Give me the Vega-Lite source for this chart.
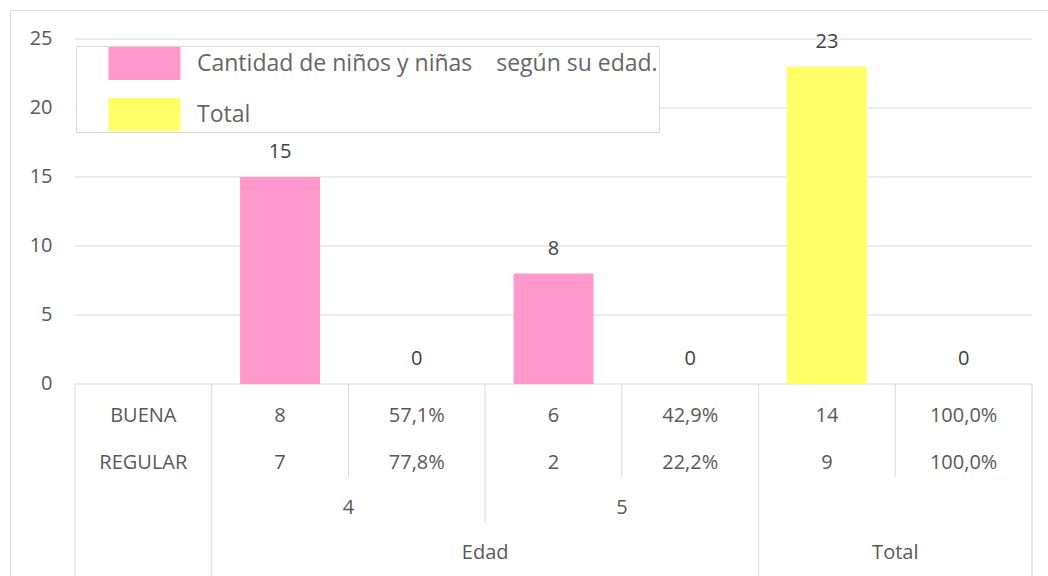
{
  "$schema": "https://vega.github.io/schema/vega-lite/v6.json",
  "width": 1038,
  "height": 566,
  "autosize": {"type": "none"},
  "padding": {"left": 10, "top": 10, "right": 0, "bottom": 0},
  "background": "white",
  "config": {
    "view": {"stroke": "#D9D9D9", "strokeWidth": 1},
    "font": "Open Sans"
  },
  "datasets": {
    "grid": [{"v": 0}, {"v": 5}, {"v": 10}, {"v": 15}, {"v": 20}, {"v": 25}],
    "bars": [
      {"cat": "4n", "serie": "Cantidad de niños y niñas\u00a0\u00a0\u00a0 según su edad.", "value": 15},
      {"cat": "4p", "serie": "Cantidad de niños y niñas\u00a0\u00a0\u00a0 según su edad.", "value": 0},
      {"cat": "5n", "serie": "Cantidad de niños y niñas\u00a0\u00a0\u00a0 según su edad.", "value": 8},
      {"cat": "5p", "serie": "Cantidad de niños y niñas\u00a0\u00a0\u00a0 según su edad.", "value": 0},
      {"cat": "Tn", "serie": "Total", "value": 23},
      {"cat": "Tp", "serie": "Total", "value": 0}
    ],
    "table": [
      {"cat": "lbl", "buena": "BUENA", "regular": "REGULAR"},
      {"cat": "4n", "buena": "8", "regular": "7"},
      {"cat": "4p", "buena": "57,1%", "regular": "77,8%"},
      {"cat": "5n", "buena": "6", "regular": "2"},
      {"cat": "5p", "buena": "42,9%", "regular": "22,2%"},
      {"cat": "Tn", "buena": "14", "regular": "9"},
      {"cat": "Tp", "buena": "100,0%", "regular": "100,0%"}
    ],
    "groups": [
      {"label": "4", "at": "4p", "level": "edad"},
      {"label": "5", "at": "5p", "level": "edad"},
      {"label": "Edad", "at": "5n", "level": "top"},
      {"label": "Total", "at": "Tp", "level": "top"}
    ],
    "lines": [
      {"at": "lbl", "len": "full"},
      {"at": "4n", "len": "full"},
      {"at": "4p", "len": "short"},
      {"at": "5n", "len": "mid"},
      {"at": "5p", "len": "short"},
      {"at": "Tn", "len": "full"},
      {"at": "Tp", "len": "short"}
    ]
  },
  "encoding": {
    "x": {
      "field": "cat",
      "type": "nominal",
      "scale": {
        "type": "band",
        "domain": ["lbl", "4n", "4p", "5n", "5p", "Tn", "Tp"],
        "range": [65, 1022],
        "paddingInner": 0,
        "paddingOuter": 0
      },
      "axis": null
    }
  },
  "layer": [
    {
      "data": {"name": "grid"},
      "mark": {"type": "tick", "orient": "horizontal", "size": 957, "thickness": 1, "color": "#D9D9D9", "opacity": 1},
      "encoding": {
        "x": {"datum": "5n", "type": "nominal"},
        "y": {
          "field": "v",
          "type": "quantitative",
          "scale": {"domain": [-13.913, 27.101], "zero": false, "nice": false},
          "axis": {
            "values": [0, 5, 10, 15, 20, 25],
            "offset": -65,
            "domain": false,
            "ticks": false,
            "grid": false,
            "labelPadding": 23,
            "labelFontSize": 20,
            "labelColor": "#595959",
            "labelFont": "Open Sans",
            "title": null
          }
        }
      }
    },
    {
      "data": {"name": "bars"},
      "mark": {"type": "bar", "size": 80},
      "encoding": {
        "y": {"field": "value", "type": "quantitative"},
        "color": {
          "field": "serie",
          "type": "nominal",
          "scale": {
            "domain": ["Cantidad de niños y niñas\u00a0\u00a0\u00a0 según su edad.", "Total"],
            "range": ["#FF99CC", "#FFFF66"]
          },
          "legend": {
            "orient": "none",
            "legendX": 66,
            "legendY": 36,
            "title": null,
            "symbolType": "M-2.182,-1H2.182V1H-2.182Z",
            "symbolSize": 1089,
            "symbolStrokeWidth": 0,
            "symbolOpacity": 1,
            "labelFontSize": 23,
            "labelColor": "#666666",
            "labelFont": "Open Sans",
            "labelLimit": 1000,
            "rowPadding": 18,
            "symbolOffset": 51,
            "labelOffset": 36,
            "padding": 1,
            "strokeColor": "#D9D9D9",
            "fillColor": "white"
          }
        }
      }
    },
    {
      "data": {"name": "bars"},
      "mark": {"type": "text", "dy": -25, "baseline": "middle", "fontSize": 20, "color": "#404040"},
      "encoding": {
        "y": {"field": "value", "type": "quantitative"},
        "text": {"field": "value", "type": "quantitative"}
      }
    },
    {
      "data": {"name": "table"},
      "mark": {"type": "text", "baseline": "middle", "fontSize": 20, "color": "#595959"},
      "encoding": {
        "y": {"datum": -2.32, "type": "quantitative"},
        "text": {"field": "buena", "type": "nominal"}
      }
    },
    {
      "data": {"name": "table"},
      "mark": {"type": "text", "baseline": "middle", "fontSize": 20, "color": "#595959"},
      "encoding": {
        "y": {"datum": -5.72, "type": "quantitative"},
        "text": {"field": "regular", "type": "nominal"}
      }
    },
    {
      "data": {"name": "groups"},
      "transform": [{"filter": "datum.level === 'edad'"}],
      "mark": {"type": "text", "baseline": "middle", "fontSize": 20, "color": "#595959"},
      "encoding": {
        "x": {"field": "at", "type": "nominal", "bandPosition": 0},
        "y": {"datum": -8.99, "type": "quantitative"},
        "text": {"field": "label", "type": "nominal"}
      }
    },
    {
      "data": {"name": "groups"},
      "transform": [{"filter": "datum.level === 'top'"}],
      "mark": {"type": "text", "baseline": "middle", "fontSize": 20, "color": "#595959"},
      "encoding": {
        "x": {"field": "at", "type": "nominal", "bandPosition": 0},
        "y": {"datum": -12.25, "type": "quantitative"},
        "text": {"field": "label", "type": "nominal"}
      }
    },
    {
      "data": {"name": "lines"},
      "transform": [{"filter": "datum.len === 'full'"}],
      "mark": {"type": "rule", "color": "#D9D9D9", "strokeWidth": 1},
      "encoding": {
        "x": {"field": "at", "type": "nominal", "bandPosition": 0},
        "y": {"datum": 0, "type": "quantitative"},
        "y2": {"datum": -13.913}
      }
    },
    {
      "data": {"name": "lines"},
      "transform": [{"filter": "datum.len === 'short'"}],
      "mark": {"type": "rule", "color": "#D9D9D9", "strokeWidth": 1},
      "encoding": {
        "x": {"field": "at", "type": "nominal", "bandPosition": 0},
        "y": {"datum": 0, "type": "quantitative"},
        "y2": {"datum": -6.74}
      }
    },
    {
      "data": {"name": "lines"},
      "transform": [{"filter": "datum.len === 'mid'"}],
      "mark": {"type": "rule", "color": "#D9D9D9", "strokeWidth": 1},
      "encoding": {
        "x": {"field": "at", "type": "nominal", "bandPosition": 0},
        "y": {"datum": 0, "type": "quantitative"},
        "y2": {"datum": -10.07}
      }
    },
    {
      "data": {"name": "lines"},
      "transform": [{"filter": "datum.at === 'Tp'"}],
      "mark": {"type": "rule", "color": "#D9D9D9", "strokeWidth": 1},
      "encoding": {
        "x": {"field": "at", "type": "nominal", "bandPosition": 1},
        "y": {"datum": 0, "type": "quantitative"},
        "y2": {"datum": -13.913}
      }
    }
  ]
}
